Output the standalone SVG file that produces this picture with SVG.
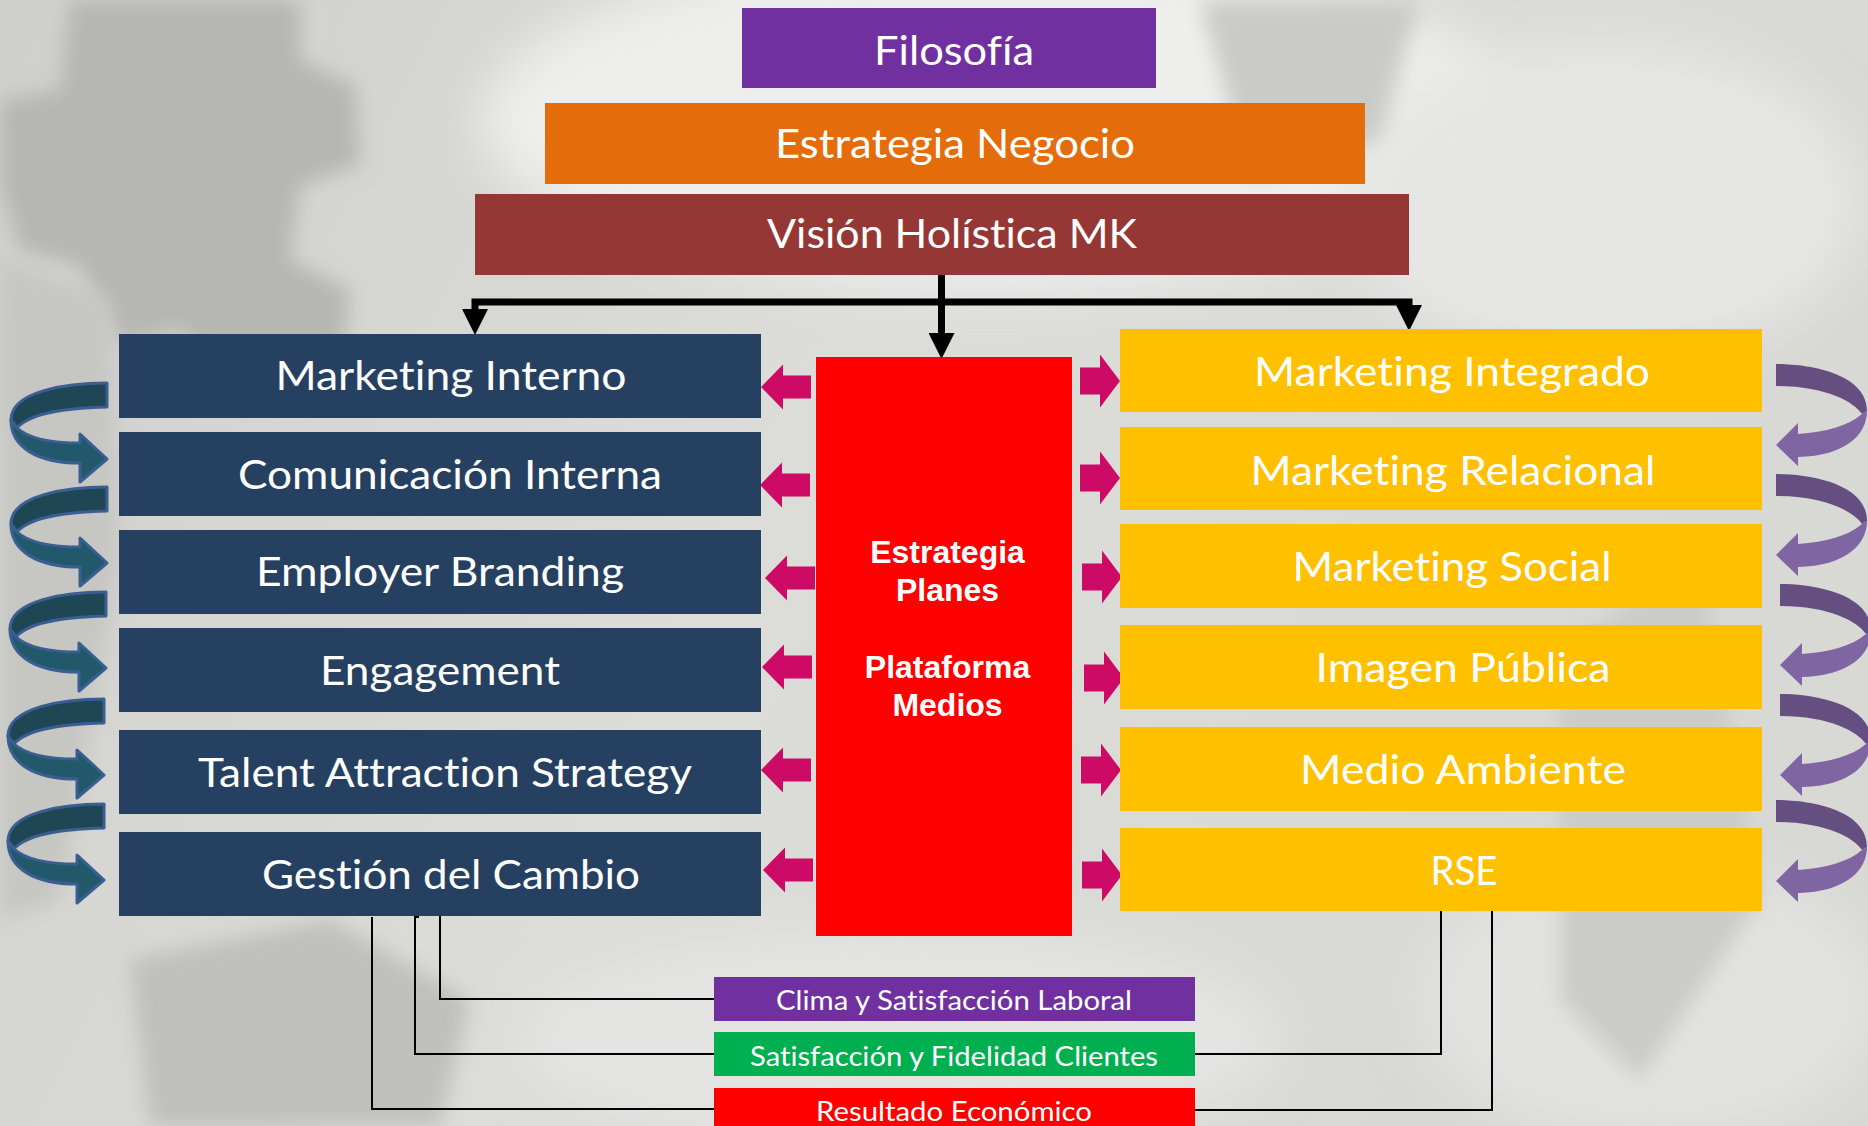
<svg xmlns="http://www.w3.org/2000/svg" width="1868" height="1126" viewBox="0 0 1868 1126">
<defs>
<style>
.t{font-family:Lato,"Open Sans","Liberation Sans",sans-serif;fill:#ffffff;text-anchor:middle;font-variant-ligatures:none;font-feature-settings:"liga" 0,"clig" 0}
.big{font-size:41px}
.small{font-size:27px}
.bold{font-family:"Liberation Sans",Arial,sans-serif;font-weight:bold;font-size:32px;fill:#ffffff;text-anchor:middle}
.conn{fill:none;stroke:#000000;stroke-width:7;stroke-linejoin:miter}
.thin{fill:none;stroke:#000000;stroke-width:2}
.navy{fill:#264061}
.yellow{fill:#FFC000}
.pink{fill:#CD0B66}
.tealDark{fill:#1E4654;stroke:#3A5E92;stroke-width:3;stroke-linejoin:round}
.tealLight{fill:#22596A;stroke:#3A5E92;stroke-width:3;stroke-linejoin:round}
.purpDark{fill:#654F80}
.purpLight{fill:#8065A3}
</style>
<linearGradient id="bg" x1="0" y1="0" x2="1" y2="0.3">
<stop offset="0" stop-color="#cfcfcb"/>
<stop offset="0.5" stop-color="#dcdcd9"/>
<stop offset="1" stop-color="#d8d8d5"/>
</linearGradient>
<filter id="blur" x="-20%" y="-20%" width="140%" height="140%"><feGaussianBlur stdDeviation="10"/></filter>
<filter id="blur2" x="-20%" y="-20%" width="140%" height="140%"><feGaussianBlur stdDeviation="25"/></filter>
<marker id="head" markerUnits="userSpaceOnUse" markerWidth="26" markerHeight="26" refX="0" refY="12" orient="auto" viewBox="0 0 24 24">
<path d="M0,0 L24,12 L0,24 Z" fill="#000000"/>
</marker>
<path id="pinkL" class="pink" d="M0,0 L22,-22.5 L22,-11.5 L50,-11.5 L50,11.5 L22,11.5 L22,22.5 Z"/>
<path id="pinkR" class="pink" d="M0,0 L-20,-26.5 L-20,-13.5 L-40,-13.5 L-40,13.5 L-20,13.5 L-20,26.5 Z"/>
<g id="tealArrow">
<path class="tealDark" d="M0,0 C-40,0 -96,8 -96,37 L-90,45 C-80,33 -50,25 0,24 Z"/>
<path class="tealLight" d="M-90,45 L-96,37 C-96,64 -70,80 -27,80 L-27,99 L0,76 L-27,51 L-27,60 C-55,60 -78,56 -90,45 Z"/>
</g>
<g id="purpleArrow">
<path class="purpDark" d="M0,0 C35,0 91,10 91,47 L86,50 C78,38 50,22 0,22 Z"/>
<path class="purpLight" d="M86,50 L91,47 C91,70 70,92 22,93 L22,102 L0,81 L22,59 L22,70 C50,68 72,62 86,50 Z"/>
</g>
</defs>

<g id="background">
<rect x="0" y="0" width="1868" height="1126" fill="url(#bg)"/>
<ellipse cx="1000" cy="120" rx="520" ry="170" fill="#eeeeec" filter="url(#blur2)"/>
<ellipse cx="1600" cy="200" rx="260" ry="160" fill="#e6e6e4" filter="url(#blur2)"/>
<ellipse cx="900" cy="1040" rx="380" ry="110" fill="#e4e4e2" filter="url(#blur2)"/>
<ellipse cx="1650" cy="1000" rx="230" ry="140" fill="#e2e2e0" filter="url(#blur2)"/>
<path d="M70,0 L300,0 L300,60 L355,85 L360,165 L300,185 L290,260 L350,290 L340,380 L250,400 L180,330 L120,345 L80,265 L20,250 L0,185 L0,100 L60,90 Z" fill="#b6b6b2" filter="url(#blur)"/>
<path d="M0,260 L110,300 L120,560 L60,900 L0,920 Z" fill="#c6c6c2" filter="url(#blur)"/>
<path d="M130,960 L330,920 L470,1000 L440,1126 L150,1126 Z" fill="#bfbfbb" filter="url(#blur)"/>
<path d="M1200,0 L1420,0 L1380,140 L1250,180 Z" fill="#cacac6" filter="url(#blur)"/>
<path d="M1560,650 L1700,560 L1760,900 L1640,1080 L1560,1000 Z" fill="#cbcbc7" filter="url(#blur)"/>
</g>

<g id="connectors">
<path class="conn" d="M941.5,302 H475 V309" marker-end="url(#head)"/>
<path class="conn" d="M941.5,302 H1409 V305" marker-end="url(#head)"/>
<path class="conn" d="M941.5,275 V333" marker-end="url(#head)"/>
<path class="thin" d="M440,916 V999 H714"/>
<path class="thin" d="M419,917 H415 V1054 H714"/>
<path class="thin" d="M372,917 V1109 H714"/>
<path class="thin" d="M1441,911 V1054 H1195"/>
<path class="thin" d="M1492,911 V1110 H1195"/>
<use href="#pinkL" x="761" y="387"/>
<use href="#pinkL" x="760" y="485"/>
<use href="#pinkL" x="765" y="578"/>
<use href="#pinkL" x="762" y="667"/>
<use href="#pinkL" x="761" y="770"/>
<use href="#pinkL" x="763" y="870"/>
<use href="#pinkR" x="1120" y="381"/>
<use href="#pinkR" x="1120" y="478"/>
<use href="#pinkR" x="1122" y="577"/>
<use href="#pinkR" x="1124" y="678"/>
<use href="#pinkR" x="1121" y="770"/>
<use href="#pinkR" x="1122" y="875"/>
<use href="#tealArrow" transform="translate(107,383)"/>
<use href="#tealArrow" transform="translate(107,487)"/>
<use href="#tealArrow" transform="translate(106,592)"/>
<use href="#tealArrow" transform="translate(104,699)"/>
<use href="#tealArrow" transform="translate(104,804)"/>
<use href="#purpleArrow" transform="translate(1776,364)"/>
<use href="#purpleArrow" transform="translate(1776,474)"/>
<use href="#purpleArrow" transform="translate(1780,584)"/>
<use href="#purpleArrow" transform="translate(1780,694)"/>
<use href="#purpleArrow" transform="translate(1776,800)"/>
</g>

<g id="node-filosofia">
<rect x="742" y="8" width="414" height="80" fill="#7030A0"/>
<text class="t big" x="954" y="65" textLength="160" lengthAdjust="spacingAndGlyphs">Filosofía</text>
</g>
<g id="node-estrategia-negocio">
<rect x="545" y="103" width="820" height="81" fill="#E46C0A"/>
<text class="t big" x="955" y="158" textLength="360" lengthAdjust="spacingAndGlyphs">Estrategia Negocio</text>
</g>
<g id="node-vision-holistica">
<rect x="475" y="194" width="934" height="81" fill="#953735"/>
<text class="t big" x="952" y="248" textLength="370" lengthAdjust="spacingAndGlyphs">Visión Holística MK</text>
</g>

<g id="node-marketing-interno">
<rect class="navy" x="119" y="334" width="642" height="84"/>
<text class="t big" x="451" y="389.5" textLength="351" lengthAdjust="spacingAndGlyphs">Marketing Interno</text>
</g>
<g id="node-comunicacion-interna">
<rect class="navy" x="119" y="432" width="642" height="84"/>
<text class="t big" x="450" y="489" textLength="424" lengthAdjust="spacingAndGlyphs">Comunicación Interna</text>
</g>
<g id="node-employer-branding">
<rect class="navy" x="119" y="530" width="642" height="84"/>
<text class="t big" x="440" y="586" textLength="368" lengthAdjust="spacingAndGlyphs">Employer Branding</text>
</g>
<g id="node-engagement">
<rect class="navy" x="119" y="628" width="642" height="84"/>
<text class="t big" x="440" y="685" textLength="240" lengthAdjust="spacingAndGlyphs">Engagement</text>
</g>
<g id="node-talent-attraction">
<rect class="navy" x="119" y="730" width="642" height="84"/>
<text class="t big" x="445" y="787" textLength="494" lengthAdjust="spacingAndGlyphs">Talent Attraction Strategy</text>
</g>
<g id="node-gestion-cambio">
<rect class="navy" x="119" y="832" width="642" height="84"/>
<text class="t big" x="451" y="889" textLength="378" lengthAdjust="spacingAndGlyphs">Gestión del Cambio</text>
</g>

<g id="node-estrategia-planes">
<rect x="816" y="357" width="256" height="579" fill="#FF0000"/>
<text class="bold" x="947.5" y="563">Estrategia</text>
<text class="bold" x="947.5" y="601">Planes</text>
<text class="bold" x="947.5" y="677.5">Plataforma</text>
<text class="bold" x="947.5" y="716">Medios</text>
</g>

<g id="node-marketing-integrado">
<rect class="yellow" x="1120" y="329" width="642" height="83"/>
<text class="t big" x="1452" y="386" textLength="396" lengthAdjust="spacingAndGlyphs">Marketing Integrado</text>
</g>
<g id="node-marketing-relacional">
<rect class="yellow" x="1120" y="427" width="642" height="83"/>
<text class="t big" x="1453" y="485" textLength="405" lengthAdjust="spacingAndGlyphs">Marketing Relacional</text>
</g>
<g id="node-marketing-social">
<rect class="yellow" x="1120" y="524" width="642" height="84"/>
<text class="t big" x="1452" y="581" textLength="319" lengthAdjust="spacingAndGlyphs">Marketing Social</text>
</g>
<g id="node-imagen-publica">
<rect class="yellow" x="1120" y="625" width="642" height="84"/>
<text class="t big" x="1463" y="682" textLength="295" lengthAdjust="spacingAndGlyphs">Imagen Pública</text>
</g>
<g id="node-medio-ambiente">
<rect class="yellow" x="1120" y="727" width="642" height="84"/>
<text class="t big" x="1463" y="784" textLength="326" lengthAdjust="spacingAndGlyphs">Medio Ambiente</text>
</g>
<g id="node-rse">
<rect class="yellow" x="1120" y="828" width="642" height="83"/>
<text class="t big" x="1464" y="885" textLength="67" lengthAdjust="spacingAndGlyphs">RSE</text>
</g>

<g id="node-clima">
<rect x="714" y="977" width="481" height="44" fill="#7030A0"/>
<text class="t small" x="954" y="1010" textLength="356" lengthAdjust="spacingAndGlyphs">Clima y Satisfacción Laboral</text>
</g>
<g id="node-satisfaccion-clientes">
<rect x="714" y="1032" width="481" height="44" fill="#00B050"/>
<text class="t small" x="954" y="1066" textLength="408" lengthAdjust="spacingAndGlyphs">Satisfacción y Fidelidad Clientes</text>
</g>
<g id="node-resultado">
<rect x="714" y="1088" width="481" height="45" fill="#FF0000"/>
<text class="t small" x="954" y="1121" textLength="276" lengthAdjust="spacingAndGlyphs">Resultado Económico</text>
</g>
</svg>
